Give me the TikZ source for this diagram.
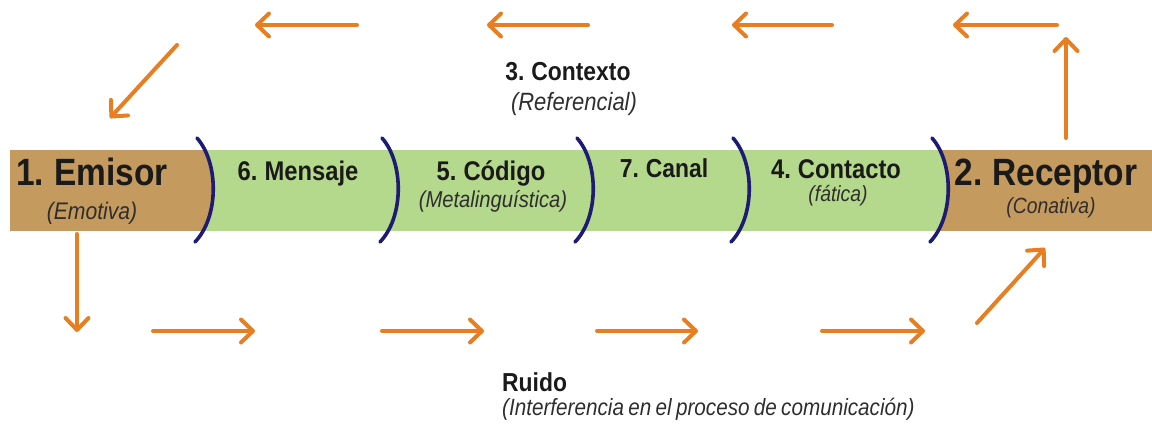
\documentclass[tikz,border=0pt]{standalone}
\usepackage{fontspec}
\setmainfont[FakeStretch=0.88,WordSpace=0.75]{Liberation Sans}
\usetikzlibrary{arrows.meta}
\definecolor{brn}{HTML}{C49A5E}
\definecolor{grn}{HTML}{B5D98C}
\definecolor{navy}{HTML}{1E1B74}
\definecolor{org}{HTML}{E87E22}
\definecolor{ink}{HTML}{1A1A1A}
\definecolor{iink}{HTML}{2E2E2E}
\begin{document}
\begin{tikzpicture}[x=1pt,y=-1pt,
  arr/.style={draw=org,line width=4pt,line cap=round,
    -{Straight Barb[length=12pt,width=23pt,line width=4pt,round]}},
  brkline/.style={draw=navy,line width=3.6pt,line cap=round},
  bt/.style={font=\bfseries\fontsize{#1}{#1}\selectfont,text=ink,inner sep=0pt,anchor=base},
  it/.style={font=\itshape\fontsize{#1}{#1}\selectfont,text=iink,inner sep=0pt,anchor=base}]
\useasboundingbox (0,0) rectangle (1152,426);

% band
\begin{scope}
\clip (0,150) rectangle (1152,230);
\fill[grn] (190,130) rectangle (960,250);
\fill[brn] (10,130) -- (197,130) -- (197,138) .. controls (219,163) and (219,217) .. (195,242) -- (195,250) -- (10,250) -- cycle;
\fill[brn] (932,130) -- (932,138) .. controls (954,163) and (954,217) .. (930,242) -- (930,250) -- (1160,250) -- (1160,130) -- cycle;
\end{scope}

% brackets
\foreach \t in {197,382,577,733,932}
  \draw[brkline] (\t,138) .. controls (\t+22,163) and (\t+22,217) .. (\t-2,242);

% texts
\node[bt=38] (emi) at (92,185) {1. Emisor};
\node[it=24] (emo) at (92,219) {(Emotiva)};
\node[bt=27] (men) at (298,180) {6. Mensaje};
\node[bt=27] (cod) at (491,180) {5. Código};
\node[it=23] (met) at (493,207) {(Metalinguística)};
\node[bt=26] (can) at (664,177) {7. Canal};
\node[bt=27] (con) at (836,178) {4. Contacto};
\node[it=22] (fat) at (838,201) {(fática)};
\node[bt=38] (rec) at (1046,185) {2. Receptor};
\node[it=22] (cna) at (1051,213) {(Conativa)};
\node[bt=26] (ctx) at (568,80) {3. Contexto};
\node[it=25] (ref) at (574,110) {(Referencial)};
\node[bt=26,anchor=base west] (rui) at (502,391) {Ruido};
\node[it=23.5,anchor=base west] (inf) at (502,415) {(Interferencia en el proceso de comunicación)};

% arrow end points
\coordinate (t1a) at (357,25); \coordinate (t1b) at (255,25);
\coordinate (t2a) at (588,25); \coordinate (t2b) at (487,25);
\coordinate (t3a) at (832,25); \coordinate (t3b) at (732,25);
\coordinate (t4a) at (1057,25); \coordinate (t4b) at (953,25);
\coordinate (upa) at (1066,138); \coordinate (upb) at (1066,37);
\coordinate (dga) at (177,45); \coordinate (dgb) at (110,118);
\coordinate (dna) at (77,234); \coordinate (dnb) at (77,332);
\coordinate (b1a) at (153,331); \coordinate (b1b) at (255,331);
\coordinate (b2a) at (382,331); \coordinate (b2b) at (484,331);
\coordinate (b3a) at (597,331); \coordinate (b3b) at (698,331);
\coordinate (b4a) at (822,331); \coordinate (b4b) at (925,331);
\coordinate (dra) at (977,323); \coordinate (drb) at (1045,248);

\foreach \a/\b in {t1a/t1b,t2a/t2b,t3a/t3b,t4a/t4b,upa/upb,dga/dgb,dna/dnb,b1a/b1b,b2a/b2b,b3a/b3b,b4a/b4b,dra/drb}
  \draw[arr] (\a) -- (\b);
\end{tikzpicture}
\end{document}
